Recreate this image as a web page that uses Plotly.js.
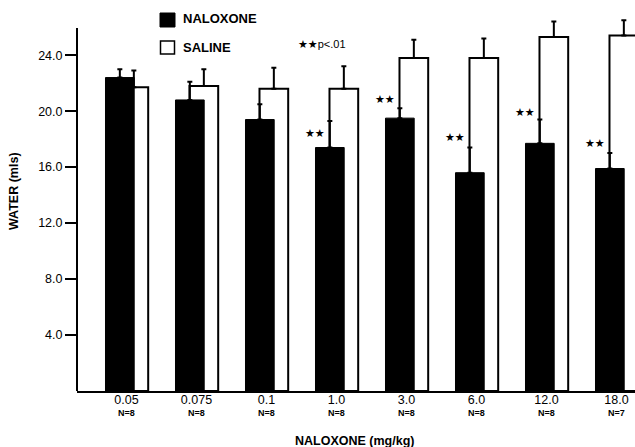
<!DOCTYPE html>
<html>
<head>
<meta charset="utf-8">
<script src="https://cdn.plot.ly/plotly-3.0.1.min.js"></script>
<style>html,body{margin:0;padding:0;background:#fff;}#chart{width:635px;height:447px;}</style>
</head>
<body>
<div id="chart"></div>
<script>
// ---- data ----
const doses = ["0.05", "0.075", "0.1", "1.0", "3.0", "6.0", "12.0", "18.0"];
const nCounts = ["8", "8", "8", "8", "8", "8", "8", "7"];
const naloxoneMean = [22.4, 20.8, 19.4, 17.4, 19.5, 15.6, 17.7, 15.9];
const naloxoneSEM  = [0.6, 1.3, 1.1, 1.9, 0.7, 1.8, 1.7, 1.1];
const salineMean   = [21.7, 21.8, 21.6, 21.6, 23.8, 23.8, 25.3, 25.4];
const salineSEM    = [1.2, 1.2, 1.5, 1.6, 1.3, 1.4, 1.1, 1.1];
const significant  = [false, false, false, true, true, true, true, true];
const starY        = [0, 0, 0, 18.4, 20.8, 18.1, 19.9, 17.7];
const yTicks       = [4, 8, 12, 16, 20, 24];

// ---- layout constants (pixels) ----
const W = 635, H = 447;
const L = 77, R = 0, T = 9, B = 56;
const plotW = W - L - R, plotH = H - T - B;
const px = v => (v - L) / plotW;          // pixel x -> paper
const py = v => (H - B - v) / plotH;      // pixel y -> paper

const idx = doses.map((d, i) => i);
const FONT = "Liberation Sans, Arial, sans-serif";

const saline = {
  type: "bar", x: idx, y: salineMean, name: "SALINE",
  width: 0.41, offset: -0.10,
  marker: {color: "#ffffff", line: {color: "#000", width: 2}},
  error_y: {type: "data", symmetric: false, array: salineSEM, arrayminus: salineSEM.map(() => 0),
            color: "#000", thickness: 2, width: 2.5},
  showlegend: false, hoverinfo: "skip"
};
const naloxone = {
  type: "bar", x: idx, y: naloxoneMean, name: "NALOXONE",
  width: 0.41, offset: -0.30,
  marker: {color: "#000000", line: {color: "#000", width: 1}},
  error_y: {type: "data", symmetric: false, array: naloxoneSEM, arrayminus: naloxoneSEM.map(() => 0),
            color: "#000", thickness: 2, width: 2.5},
  showlegend: false, hoverinfo: "skip"
};

const annotations = [];
idx.forEach(i => {
  if (significant[i]) {
    annotations.push({x: i - 0.135, y: starY[i], xref: "x", yref: "y", text: "★★",
      showarrow: false, xanchor: "right", yanchor: "middle",
      font: {family: "DejaVu Sans", size: 11, color: "#000"}});
  }
  annotations.push({x: i, y: py(412.5), xref: "x", yref: "paper", text: "<b>N=" + nCounts[i] + "</b>",
    showarrow: false, xanchor: "center", yanchor: "middle",
    font: {family: FONT, size: 9, color: "#000"}});
});
annotations.push({x: px(181), y: py(18.5), xref: "paper", yref: "paper", text: "<b>NALOXONE</b>",
  showarrow: false, xanchor: "left", yanchor: "middle", font: {family: FONT, size: 13, color: "#000"}});
annotations.push({x: px(181), y: py(47.5), xref: "paper", yref: "paper", text: "<b>SALINE</b>",
  showarrow: false, xanchor: "left", yanchor: "middle", font: {family: FONT, size: 13, color: "#000"}});
annotations.push({x: px(296), y: py(45), xref: "paper", yref: "paper", text: "<span style='font-family:DejaVu Sans'>★★</span>p<.01",
  showarrow: false, xanchor: "left", yanchor: "middle", font: {family: FONT, size: 11, color: "#000"}});
annotations.push({x: px(14), y: py(191), xref: "paper", yref: "paper", text: "<b>WATER (mls)</b>",
  textangle: -90, showarrow: false, xanchor: "center", yanchor: "middle",
  font: {family: FONT, size: 12.5, color: "#000"}});
annotations.push({x: px(354), y: py(441), xref: "paper", yref: "paper", text: "<b>NALOXONE (mg/kg)</b>",
  showarrow: false, xanchor: "center", yanchor: "middle",
  font: {family: FONT, size: 12.5, color: "#000"}});

const shapes = [
  {type: "line", xref: "paper", yref: "y", x0: 0, x1: 0, y0: 0, y1: 25.95, line: {color: "#000", width: 2}},
  {type: "rect", xref: "paper", yref: "paper", x0: px(160), x1: px(175), y0: py(27), y1: py(13),
   fillcolor: "#000", line: {color: "#000", width: 1}},
  {type: "rect", xref: "paper", yref: "paper", x0: px(160.5), x1: px(174.5), y0: py(54), y1: py(41),
   fillcolor: "#fff", line: {color: "#000", width: 1.5}}
];

const layout = {
  width: W, height: H,
  margin: {l: L, r: R, t: T, b: B, pad: 0},
  paper_bgcolor: "#fff", plot_bgcolor: "#fff",
  barmode: "overlay",
  showlegend: false,
  font: {family: FONT, color: "#000"},
  xaxis: {
    range: [-0.707, -0.707 + plotW / 70], showgrid: false, zeroline: false,
    showline: true, linecolor: "#000", linewidth: 2,
    tickmode: "array", tickvals: idx, ticktext: doses,
    ticks: "", ticklabelstandoff: -4,
    tickfont: {family: FONT, size: 12.5, color: "#000"}
  },
  yaxis: {
    range: [0, 27.3], showgrid: false, zeroline: false, showline: false,
    tickmode: "array", tickvals: yTicks, ticktext: yTicks.map(v => v.toFixed(1)),
    ticks: "outside", ticklen: 11, tickwidth: 1.5, tickcolor: "#000",
    ticklabelstandoff: 0,
    tickfont: {family: FONT, size: 12.5, color: "#000"}
  },
  annotations: annotations,
  shapes: shapes
};

Plotly.newPlot("chart", [saline, naloxone], layout, {staticPlot: true, displayModeBar: false});
</script>
</body>
</html>
